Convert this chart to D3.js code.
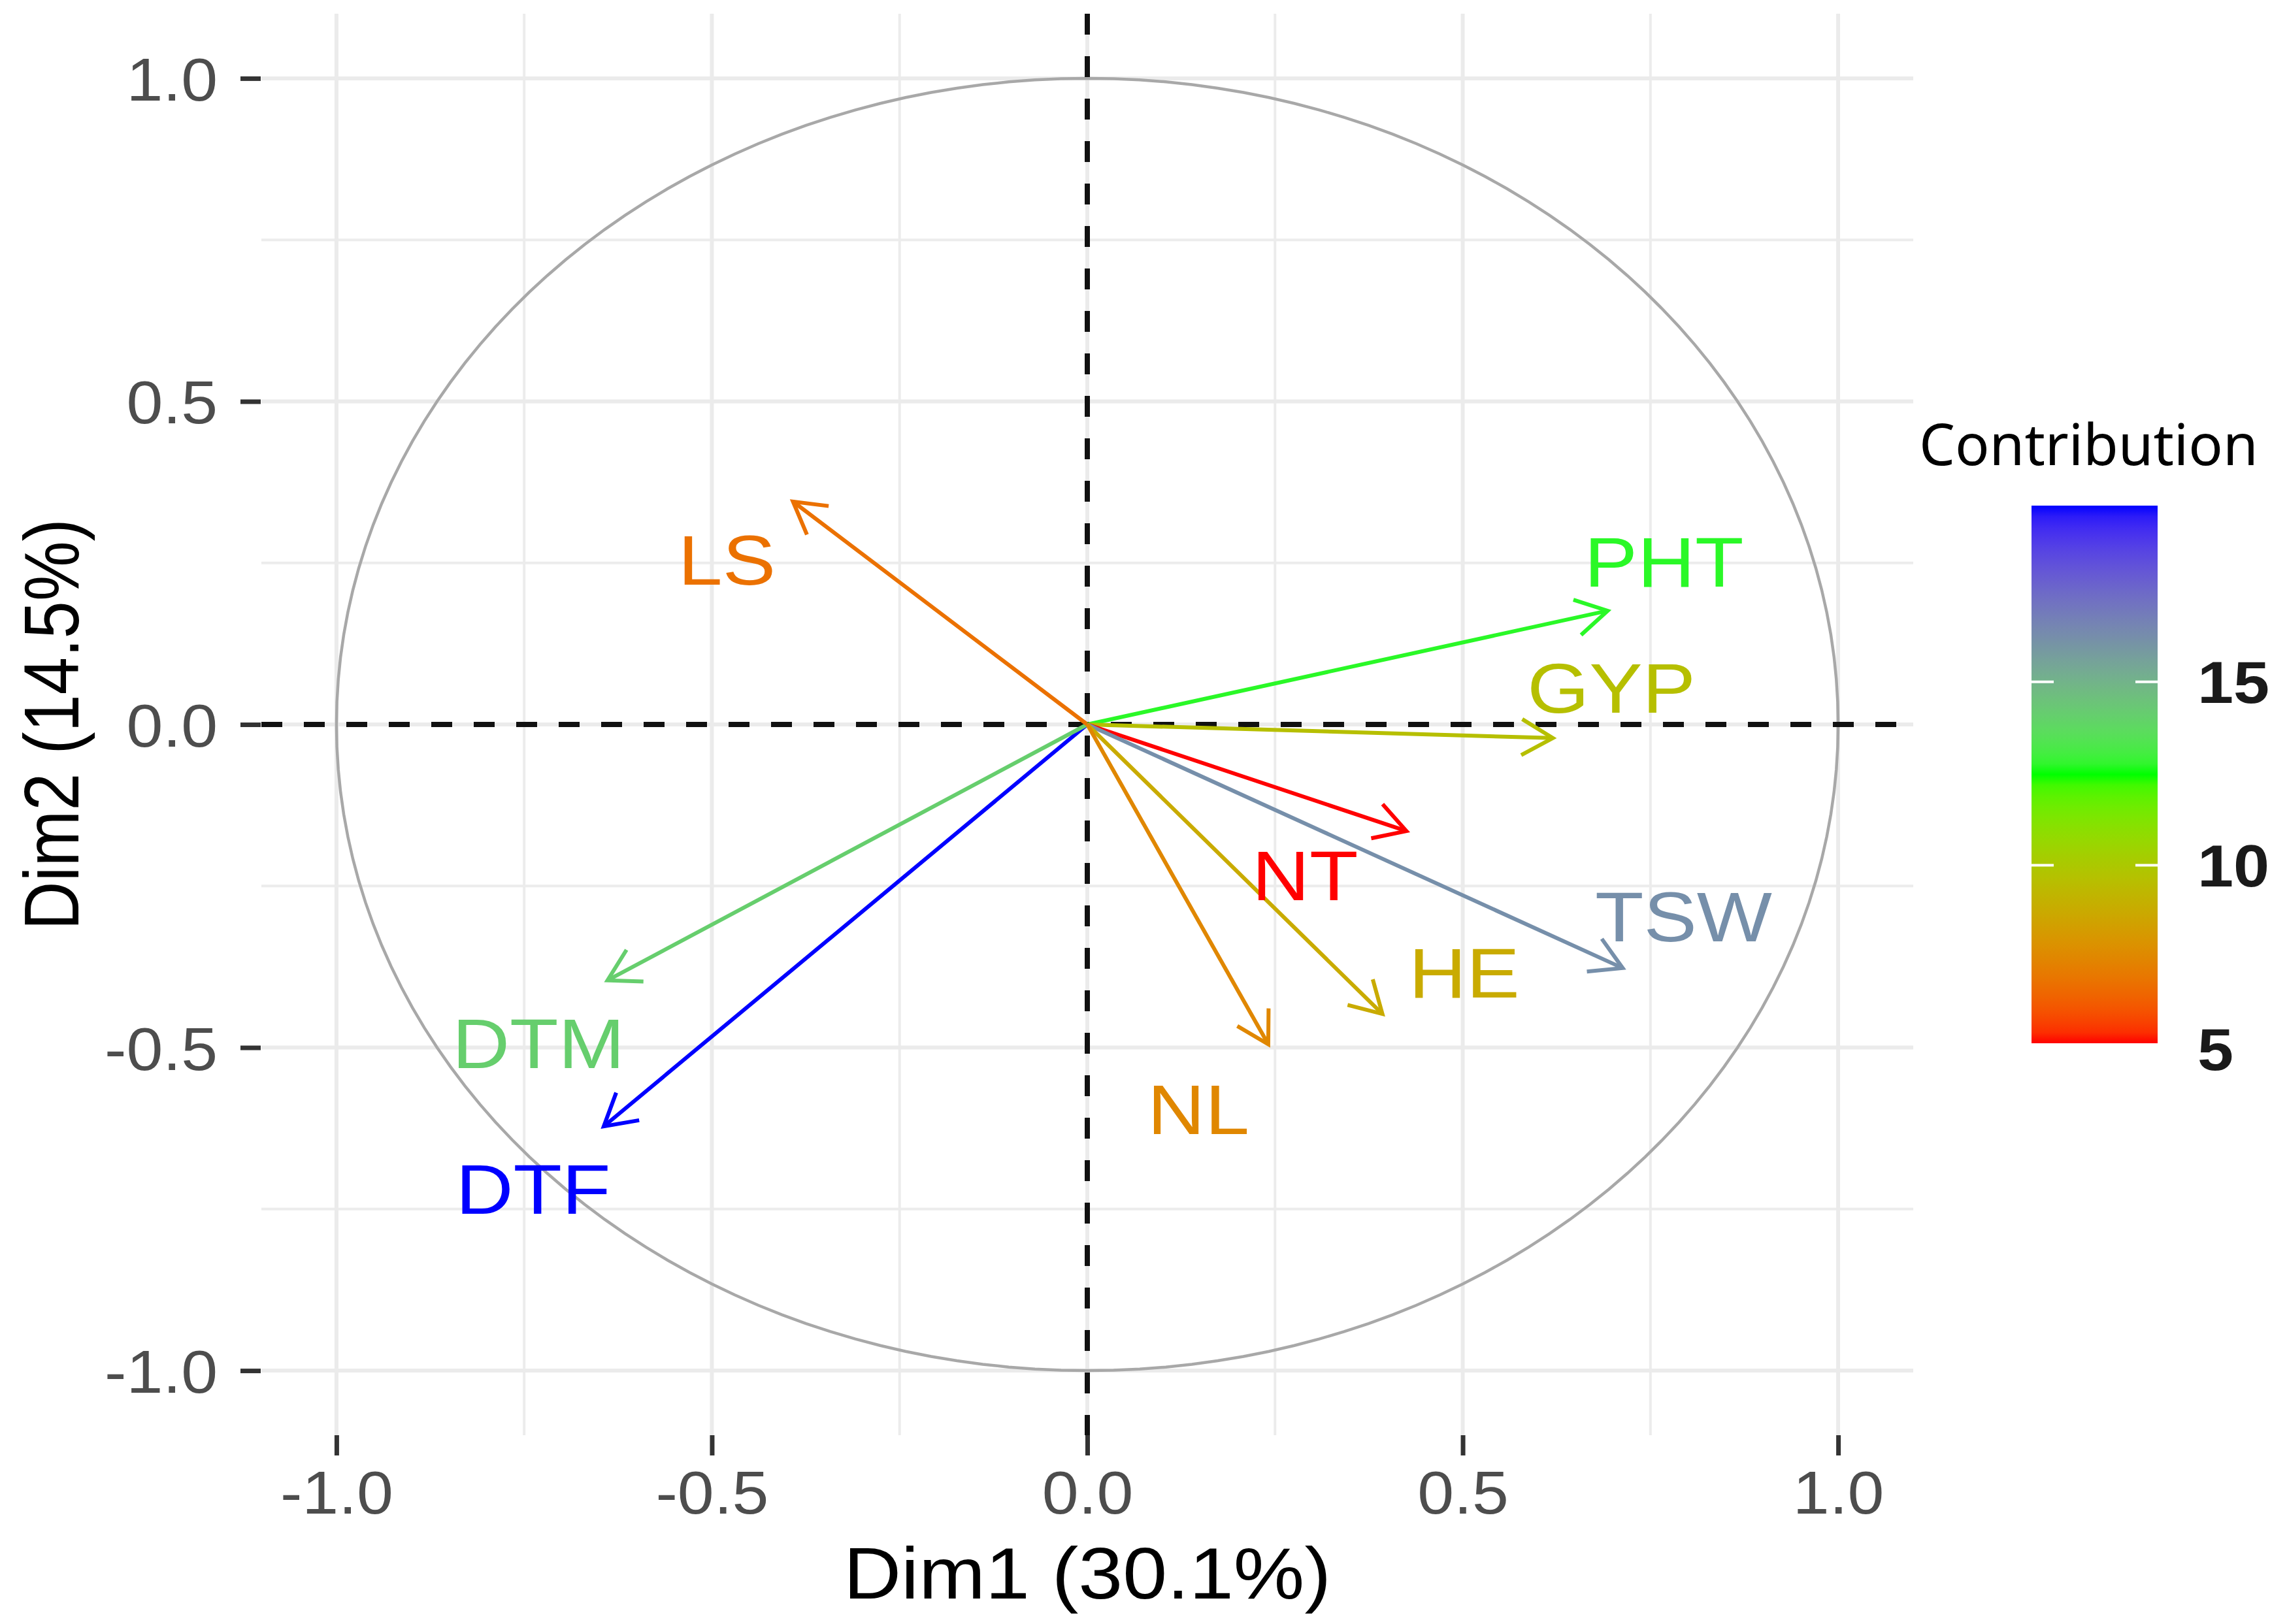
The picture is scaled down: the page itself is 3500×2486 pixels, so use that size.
<!DOCTYPE html>
<html>
<head>
<meta charset="utf-8">
<script src="https://cdn.jsdelivr.net/npm/d3@7"></script>
<style>
  body { margin: 0; background: #fff; }
  svg { display: block; }
</style>
</head>
<body>
<script>
// variable coordinates on the first two dimensions
const variables = ["DTF", "DTM", "LS", "PHT", "GYP", "NT", "TSW", "HE", "NL"];
const dim1 = [-0.644, -0.639, -0.392, 0.693, 0.620, 0.425, 0.713, 0.393, 0.241];
const dim2 = [-0.622, -0.396, 0.345, 0.176, -0.021, -0.165, -0.377, -0.448, -0.495];
const contrib = [19.8, 14.1, 6.8, 12.7, 9.6, 5.15, 16.2, 8.8, 7.5];
// where the (repelled) labels sit, in data units
const labelX = [-0.738, -0.731, -0.480, 0.768, 0.698, 0.290, 0.794, 0.502, 0.148];
const labelY = [-0.718, -0.493, 0.255, 0.252, 0.057, -0.233, -0.297, -0.384, -0.595];

const axisTicks = [-1.0, -0.5, 0.0, 0.5, 1.0];
const minorTicks = [-0.75, -0.25, 0.25, 0.75];
const legendTicks = [5, 10, 15];
const xTitle = "Dim1 (30.1%)";
const yTitle = "Dim2 (14.5%)";
const legendTitle = "Contribution";

const W = 3500, H = 2486;
// panel box
const panel = { left: 400, right: 2928, top: 21, bottom: 2197 };
const sansFont = "'Liberation Sans', Arial, sans-serif";

const svg = d3.select("body")
    .append("svg")
    .attr("width", W)
    .attr("height", H);

svg.append("rect").attr("width", W).attr("height", H).attr("fill", "#fff");

const x = d3.scaleLinear().domain([-1.1, 1.1]).range([panel.left, panel.right]);
const y = d3.scaleLinear().domain([-1.1, 1.1]).range([panel.bottom, panel.top]);

const cmin = d3.min(contrib), cmax = d3.max(contrib);
const color = d3.scaleLinear()
    .domain([cmin, (cmin + cmax) / 2, cmax])
    .range(["#ff0000", "#00ff00", "#0000ff"])
    .interpolate(d3.interpolateLab);

// grid (minor first, then major)
const grid = svg.append("g");
grid.selectAll(".vminor").data(minorTicks).enter().append("line")
    .attr("x1", d => x(d)).attr("x2", d => x(d))
    .attr("y1", panel.top).attr("y2", panel.bottom)
    .attr("stroke", "#ececec").attr("stroke-width", 4);
grid.selectAll(".hminor").data(minorTicks).enter().append("line")
    .attr("y1", d => y(d)).attr("y2", d => y(d))
    .attr("x1", panel.left).attr("x2", panel.right)
    .attr("stroke", "#ececec").attr("stroke-width", 4);
grid.selectAll(".vmajor").data(axisTicks).enter().append("line")
    .attr("x1", d => x(d)).attr("x2", d => x(d))
    .attr("y1", panel.top).attr("y2", panel.bottom)
    .attr("stroke", "#ebebeb").attr("stroke-width", 6);
grid.selectAll(".hmajor").data(axisTicks).enter().append("line")
    .attr("y1", d => y(d)).attr("y2", d => y(d))
    .attr("x1", panel.left).attr("x2", panel.right)
    .attr("stroke", "#ebebeb").attr("stroke-width", 6);

// correlation circle
const circle = d3.range(0, 361, 2).map(a => [Math.cos(a * Math.PI / 180), Math.sin(a * Math.PI / 180)]);
svg.append("path")
    .datum(circle)
    .attr("d", d3.line().x(d => x(d[0])).y(d => y(d[1])))
    .attr("fill", "none")
    .attr("stroke", "#a8a8a8")
    .attr("stroke-width", 4.5);

// dashed zero lines
svg.append("line")
    .attr("x1", panel.left).attr("x2", panel.right)
    .attr("y1", y(0)).attr("y2", y(0))
    .attr("stroke", "#111").attr("stroke-width", 8)
    .attr("stroke-dasharray", "32,33");
svg.append("line")
    .attr("x1", x(0)).attr("x2", x(0))
    .attr("y1", panel.top).attr("y2", panel.bottom)
    .attr("stroke", "#111").attr("stroke-width", 8)
    .attr("stroke-dasharray", "32,33");

// arrows
const arrows = svg.append("g");
variables.forEach((v, i) => {
    const x0 = x(0), y0 = y(0);
    const x1 = x(dim1[i]), y1 = y(dim2[i]);
    const ang = Math.atan2(y1 - y0, x1 - x0);
    const len = 55, spread = Math.PI / 6;
    const hx1 = x1 - len * Math.cos(ang - spread), hy1 = y1 - len * Math.sin(ang - spread);
    const hx2 = x1 - len * Math.cos(ang + spread), hy2 = y1 - len * Math.sin(ang + spread);
    const col = color(contrib[i]);
    arrows.append("line")
        .attr("x1", x0).attr("y1", y0).attr("x2", x1).attr("y2", y1)
        .attr("stroke", col).attr("stroke-width", 6);
    arrows.append("path")
        .attr("d", `M${hx1},${hy1}L${x1},${y1}L${hx2},${hy2}`)
        .attr("fill", "none").attr("stroke", col).attr("stroke-width", 6)
        .attr("stroke-linejoin", "miter");
});

// variable labels (a bit wide in the original, hence the x stretch)
svg.selectAll(".varlabel")
    .data(variables)
    .enter()
    .append("text")
    .attr("class", "varlabel")
    .attr("transform", (d, i) => `translate(${x(labelX[i])},${y(labelY[i])}) scale(1.14,1)`)
    .attr("dy", "0.36em")
    .attr("text-anchor", "middle")
    .style("font-family", sansFont)
    .style("font-size", "107px")
    .attr("fill", (d, i) => color(contrib[i]))
    .text(d => d);

// axes
const fmt = d => d.toFixed(1);
const yAxis = svg.append("g")
    .attr("transform", `translate(${panel.left - 1},0)`)
    .call(d3.axisLeft(y).tickValues(axisTicks).tickFormat(fmt).tickSize(31).tickPadding(35));
const xAxis = svg.append("g")
    .attr("transform", `translate(0,${panel.bottom})`)
    .call(d3.axisBottom(x).tickValues(axisTicks).tickFormat(fmt).tickSize(31).tickPadding(23));

[yAxis, xAxis].forEach(ax => {
    ax.select(".domain").remove();
    ax.selectAll(".tick line").attr("stroke", "#333").attr("stroke-width", 7);
    ax.selectAll(".tick text")
        .attr("fill", "#4d4d4d")
        .style("font-family", sansFont)
        .style("font-size", "93px");
});
yAxis.selectAll(".tick text")
    .attr("x", 0).attr("dy", "0.36em")
    .attr("transform", "translate(-66,0) scale(1.08,1)");
xAxis.selectAll(".tick text")
    .attr("y", 0)
    .attr("transform", "translate(0,54) scale(1.08,1)");

// axis titles
svg.append("text")
    .attr("transform", `translate(${(panel.left + panel.right) / 2},2447) scale(1.09,1)`)
    .attr("text-anchor", "middle")
    .style("font-family", sansFont)
    .style("font-size", "112px")
    .attr("fill", "#000")
    .text(xTitle);

svg.append("text")
    .attr("transform", `translate(120,${y(0)}) scale(1.16,1) rotate(-90)`)
    .attr("text-anchor", "middle")
    .style("font-family", sansFont)
    .style("font-size", "103px")
    .attr("fill", "#000")
    .text(yTitle);

// legend: colour bar
const bar = { left: 3109, width: 193, top: 774, bottom: 1597 };
const yLeg = d3.scaleLinear().domain([cmin, cmax]).range([bar.bottom, bar.top]);

const defs = svg.append("defs");
const grad = defs.append("linearGradient")
    .attr("id", "cbar")
    .attr("x1", "0").attr("y1", "1").attr("x2", "0").attr("y2", "0");
d3.range(0, 1.0001, 0.02).forEach(t => {
    grad.append("stop")
        .attr("offset", t)
        .attr("stop-color", color(cmin + t * (cmax - cmin)));
});

svg.append("text")
    .attr("x", 2937)
    .attr("y", 712)
    .style("font-family", "'Noto Sans', sans-serif")
    .style("font-size", "87px")
    .attr("fill", "#000")
    .text(legendTitle);

svg.append("rect")
    .attr("x", bar.left).attr("y", bar.top)
    .attr("width", bar.width).attr("height", bar.bottom - bar.top)
    .attr("fill", "url(#cbar)");

const legTicks = legendTicks.filter(t => t >= cmin && t <= cmax);
svg.selectAll(".legtickL").data(legTicks).enter().append("line")
    .attr("x1", bar.left).attr("x2", bar.left + 34)
    .attr("y1", d => yLeg(d)).attr("y2", d => yLeg(d))
    .attr("stroke", "#fff").attr("stroke-width", 4);
svg.selectAll(".legtickR").data(legTicks).enter().append("line")
    .attr("x1", bar.left + bar.width - 34).attr("x2", bar.left + bar.width)
    .attr("y1", d => yLeg(d)).attr("y2", d => yLeg(d))
    .attr("stroke", "#fff").attr("stroke-width", 4);

svg.selectAll(".leglabel").data(legendTicks).enter().append("text")
    .attr("transform", d => `translate(3363,${yLeg(d)}) scale(1.1,1)`)
    .attr("dy", "0.36em")
    .style("font-family", sansFont)
    .style("font-size", "90px")
    .style("font-weight", "bold")
    .attr("fill", "#1a1a1a")
    .text(d => d);
</script>
</body>
</html>
